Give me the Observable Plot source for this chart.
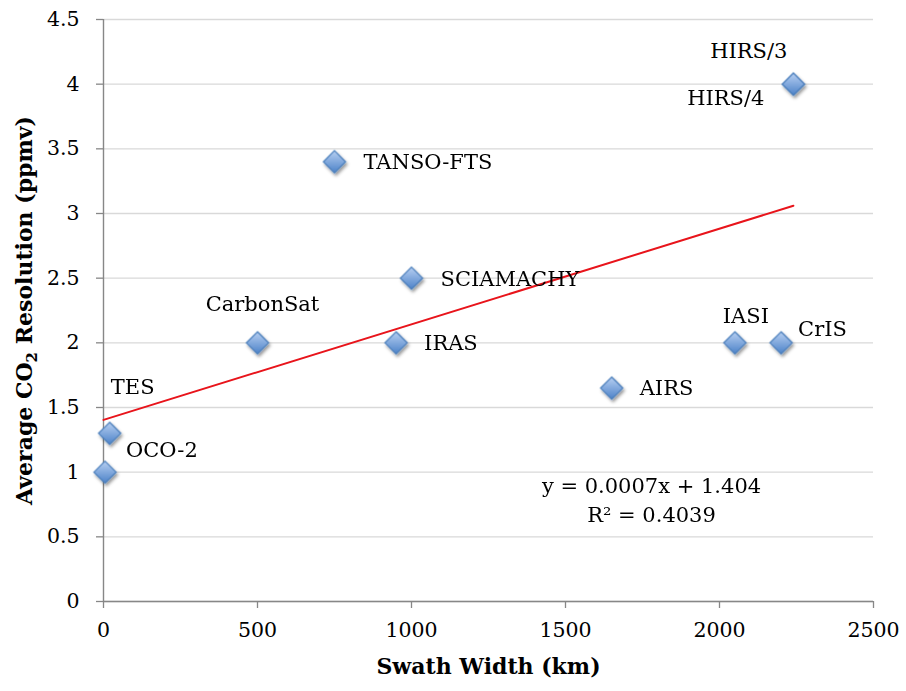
<!DOCTYPE html>
<html>
<head>
<meta charset="utf-8">
<script src="https://cdn.jsdelivr.net/npm/d3@7"></script>
<script src="https://cdn.jsdelivr.net/npm/@observablehq/plot@0.6"></script>
<style>
  html, body { margin: 0; padding: 0; background: #ffffff; }
</style>
</head>
<body>
<div id="chart"></div>
<script>
// ---- data ----
const names   = ["OCO-2", "TES", "CarbonSat", "TANSO-FTS", "IRAS", "SCIAMACHY", "AIRS", "IASI", "CrIS", "HIRS/3", "HIRS/4"];
const swathKm = [5, 20, 500, 750, 950, 1000, 1650, 2050, 2200, 2240, 2240];
const co2Res  = [1.0, 1.3, 2.0, 3.4, 2.0, 2.5, 1.65, 2.0, 2.0, 4.0, 4.0];

const xTicks = [0, 500, 1000, 1500, 2000, 2500];
const yTicks = [0, 0.5, 1, 1.5, 2, 2.5, 3, 3.5, 4, 4.5];

// linear trend line as drawn (end points)
const trendX = [0, 2240];
const trendY = [1.404, 3.06];

const equationLines = ["y = 0.0007x + 1.404", "R\u00B2 = 0.4039"];
const xTitle = "Swath Width (km)";
const yTitle = "Average CO2 Resolution (ppmv)";

// ---- layout / styling of the point labels (pixel offsets from each marker) ----
const labelLayout = {
  "OCO-2":     {dx: 21,  dy: -22, anchor: "start"},
  "TES":       {dx: 23,  dy: -46, anchor: "middle"},
  "CarbonSat": {dx: 5,   dy: -39, anchor: "middle"},
  "TANSO-FTS": {dx: 29,  dy: 0,   anchor: "start"},
  "IRAS":      {dx: 28,  dy: 0,   anchor: "start"},
  "SCIAMACHY": {dx: 29,  dy: 1,   anchor: "start"},
  "AIRS":      {dx: 28,  dy: 0,   anchor: "start"},
  "IASI":      {dx: 11,  dy: -27, anchor: "middle"},
  "CrIS":      {dx: 17,  dy: -14, anchor: "start"},
  "HIRS/3":    {dx: -6,  dy: -33, anchor: "end"},
  "HIRS/4":    {dx: -29, dy: 14,  anchor: "end"}
};

const points = names.map((name, i) => ({name, x: swathKm[i], y: co2Res[i]}));
const trend = trendX.map((x, i) => ({x, y: trendY[i]}));

const FONT = "'DejaVu Serif', serif";
const LABEL_SIZE = 21;

const labelMarks = points.map(p => {
  const L = labelLayout[p.name];
  return Plot.text([p], {
    x: "x", y: "y", text: "name",
    dx: L.dx, dy: L.dy, textAnchor: L.anchor,
    fontSize: LABEL_SIZE, fill: "#000"
  });
});

const plot = Plot.plot({
  width: 906,
  height: 691,
  marginLeft: 103,
  marginRight: 33,
  marginTop: 19,
  marginBottom: 90,
  style: {fontFamily: FONT, background: "#ffffff", color: "#000", overflow: "visible"},
  x: {domain: [0, 2500]},
  y: {domain: [0, 4.5]},
  marks: [
    Plot.gridY(yTicks, {stroke: "#d9d9d9", strokeOpacity: 1, strokeWidth: 1.3}),
    Plot.ruleX([0], {stroke: "#878787", strokeWidth: 1.4}),
    Plot.ruleY([0], {stroke: "#878787", strokeWidth: 1.4}),
    Plot.axisY(yTicks, {
      tickSize: 7, tickPadding: 17, stroke: "#878787", strokeWidth: 1.3,
      fontSize: 20.5, label: null, tickFormat: d => String(d)
    }),
    Plot.axisX(xTicks, {
      tickSize: 7, tickPadding: 14, stroke: "#878787", strokeWidth: 1.3,
      fontSize: 20.5, label: null, tickFormat: d => String(d)
    }),
    Plot.line(trend, {x: "x", y: "y", stroke: "#e8141b", strokeWidth: 2}),
    Plot.dot(points, {
      x: "x", y: "y", symbol: "diamond2", r: 10,
      fill: "url(#diamondGrad)", stroke: "#4a7ebb", strokeWidth: 1.2, fillOpacity: 1
    }),
    ...labelMarks,
    Plot.text([equationLines[0]], {frameAnchor: "top-left", dx: 548, dy: 459, textAnchor: "middle", fontSize: LABEL_SIZE, fill: "#000"}),
    Plot.text([equationLines[1]], {frameAnchor: "top-left", dx: 548, dy: 488, textAnchor: "middle", fontSize: LABEL_SIZE, fill: "#000"}),
    Plot.text([xTitle], {frameAnchor: "bottom", dy: 72, textAnchor: "middle", fontWeight: "bold", fontSize: 22, fill: "#000"}),
    Plot.text([yTitle], {frameAnchor: "left", rotate: -90, dx: -79, textAnchor: "middle", fontWeight: "bold", fontSize: 22, fill: "#000"})
  ]
});

// gradient + soft shadow for the diamond markers
const svg = d3.select(plot);
const defs = svg.insert("defs", ":first-child");
const grad = defs.append("linearGradient").attr("id", "diamondGrad")
  .attr("x1", 0).attr("y1", 0).attr("x2", 0).attr("y2", 1);
grad.append("stop").attr("offset", "0%").attr("stop-color", "#b8d0f2");
grad.append("stop").attr("offset", "100%").attr("stop-color", "#4c82c8");
const filt = defs.append("filter").attr("id", "dotShadow")
  .attr("x", "-50%").attr("y", "-50%").attr("width", "200%").attr("height", "200%");
filt.append("feDropShadow").attr("dx", 1.5).attr("dy", 2.5).attr("stdDeviation", 1.5)
  .attr("flood-color", "#000").attr("flood-opacity", 0.4);
svg.selectAll("g[aria-label='dot']").attr("filter", "url(#dotShadow)");

// subscript 2 in the y title
svg.selectAll("text").filter(function() { return this.textContent === yTitle; })
  .each(function() {
    const t = d3.select(this);
    t.attr("text-anchor", "middle");
    t.text(null);
    t.append("tspan").text("Average CO");
    t.append("tspan").text("2").attr("font-size", "15").attr("dy", 5);
    t.append("tspan").text(" Resolution (ppmv)").attr("dy", -5);
  });

document.getElementById("chart").appendChild(plot);
</script>
</body>
</html>
